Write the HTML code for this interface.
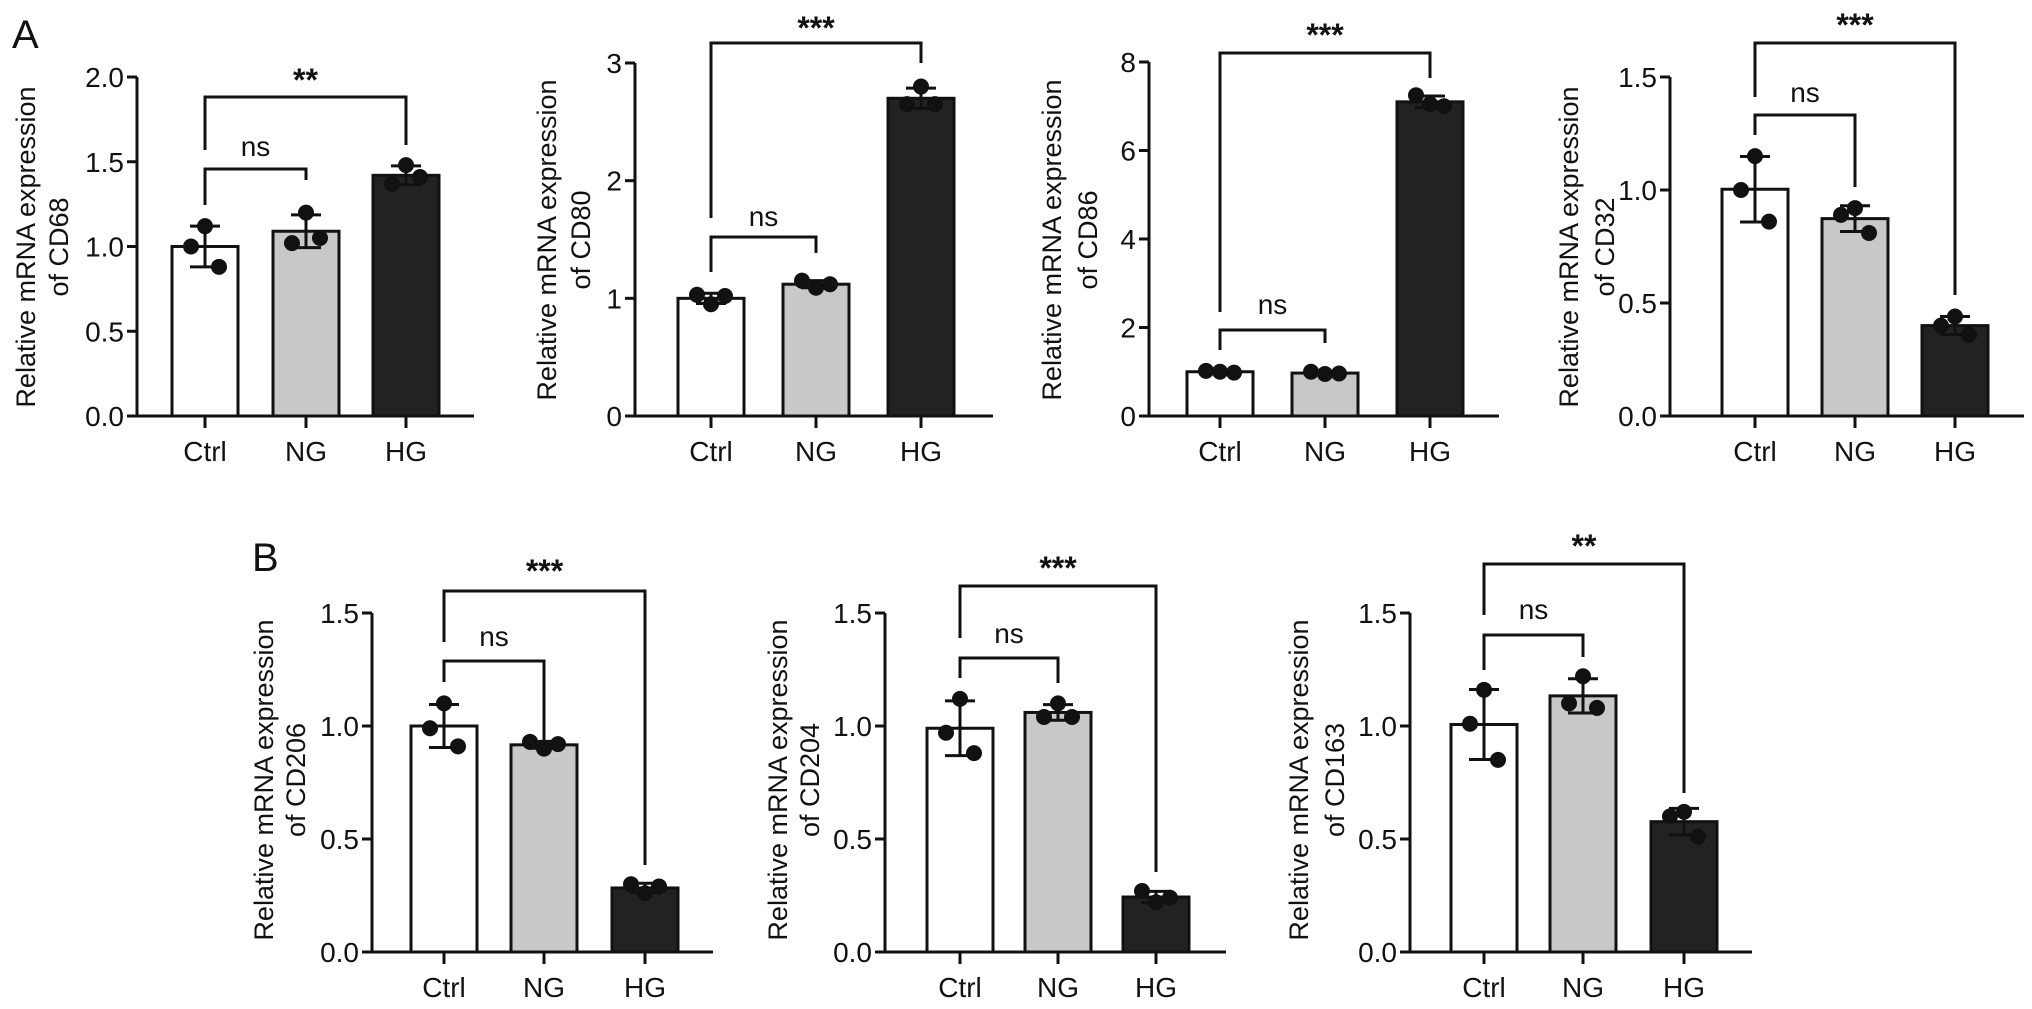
<!DOCTYPE html>
<html><head><meta charset="utf-8">
<style>
html,body{margin:0;padding:0;background:#fff;}
svg{display:block;}
text{font-family:"Liberation Sans",Arial,sans-serif;fill:#111;}
</style></head>
<body>
<svg id="fig" width="2032" height="1009" viewBox="0 0 2032 1009" xmlns="http://www.w3.org/2000/svg">
<text x="12" y="48" font-size="40">A</text>
<text x="252" y="571" font-size="40">B</text>
</svg>
<script>
const groups = ["Ctrl","NG","HG"];
const cd68Pts = [[1.12,1.0,0.88],[1.2,1.02,1.05],[1.48,1.37,1.41]];
const cd80Pts = [[0.95,1.03,1.02],[1.09,1.15,1.12],[2.8,2.65,2.65]];
const cd86Pts = [[1.0,1.02,0.98],[0.95,1.0,0.96],[7.05,7.25,7.0]];
const cd32Pts = [[1.15,1.0,0.86],[0.92,0.89,0.81],[0.44,0.4,0.36]];
const cd206Pts = [[1.1,0.99,0.91],[0.9,0.93,0.92],[0.26,0.3,0.29]];
const cd204Pts = [[1.12,0.97,0.88],[1.1,1.04,1.04],[0.22,0.27,0.24]];
const cd163Pts = [[1.16,1.01,0.85],[1.22,1.1,1.08],[0.62,0.6,0.51]];
const cd68Ticks = [0,0.5,1.0,1.5,2.0];
const cd80Ticks = [0,1,2,3];
const cd86Ticks = [0,2,4,6,8];
const cd32Ticks = [0,0.5,1.0,1.5];
const m2Ticks = [0,0.5,1.0,1.5];
const sigLabels = ["**","***","***","***","***","***","**"];
const geneNames = ["CD68","CD80","CD86","CD32","CD206","CD204","CD163"];

const panels = [
 {pts:cd68Pts,ticks:cd68Ticks,dec:1,ax:137,axEnd:474,y0:416,yTop:77,cx:[205,306,406],tx:[26,59],ty:247,ob:[97,150,145],ib:[169,205,180],sigY:77,nsY:147},
 {pts:cd80Pts,ticks:cd80Ticks,dec:0,ax:635,axEnd:993,y0:416,yTop:63,cx:[711,816,921],tx:[547,581],ty:240,ob:[43,218,63],ib:[237,272,253],sigY:25,nsY:217},
 {pts:cd86Pts,ticks:cd86Ticks,dec:0,ax:1149,axEnd:1499,y0:416,yTop:62,cx:[1220,1325,1430],tx:[1052,1088],ty:240,ob:[53,312,78],ib:[330,350,343],sigY:32,nsY:305},
 {pts:cd32Pts,ticks:cd32Ticks,dec:1,ax:1670,axEnd:2024,y0:416,yTop:77,cx:[1755,1855,1955],tx:[1569,1605],ty:247,ob:[43,97,295],ib:[115,135,187],sigY:22,nsY:93},
 {pts:cd206Pts,ticks:m2Ticks,dec:1,ax:372,axEnd:713,y0:952,yTop:613,cx:[444,544,645],tx:[264,296],ty:780,ob:[591,642,865],ib:[661,682,743],sigY:568,nsY:637},
 {pts:cd204Pts,ticks:m2Ticks,dec:1,ax:885,axEnd:1226,y0:952,yTop:613,cx:[960,1058,1156],tx:[778,810],ty:780,ob:[586,638,872],ib:[658,678,683],sigY:565,nsY:634},
 {pts:cd163Pts,ticks:m2Ticks,dec:1,ax:1410,axEnd:1752,y0:952,yTop:613,cx:[1484,1583,1684],tx:[1299,1335],ty:780,ob:[564,615,793],ib:[635,670,657],sigY:543,nsY:610}
];
const fills = ["#ffffff","#c8c8c8","#222222"];
const NS="http://www.w3.org/2000/svg";
const svg=document.getElementById('fig');
function mk(tag,attrs,parent){const e=document.createElementNS(NS,tag);for(const k in attrs)e.setAttribute(k,attrs[k]);(parent||svg).appendChild(e);return e;}

panels.forEach((p,pi)=>{
  const g=mk('g',{});
  
  
  const maxT=p.ticks[p.ticks.length-1];
  const y=v=>p.y0-(v/maxT)*(p.y0-p.yTop);
  const bw=66;
  // bars
  p.pts.forEach((arr,i)=>{
    const mean=arr.reduce((a,b)=>a+b,0)/arr.length;
    const sd=Math.sqrt(arr.reduce((a,b)=>a+(b-mean)*(b-mean),0)/(arr.length-1));
    const r=mk('rect',{x:p.cx[i]-bw/2,y:y(mean),width:bw,height:p.y0-y(mean),fill:fills[i],stroke:'#111','stroke-width':3},g);
    
    
    const eb=mk('path',{d:`M${p.cx[i]} ${y(mean+sd)}V${y(mean-sd)}M${p.cx[i]-15} ${y(mean+sd)}h30M${p.cx[i]-15} ${y(mean-sd)}h30`,stroke:'#111','stroke-width':3,fill:'none'},g);
    
    
    const offs=[0,-14,14];
    arr.forEach((v,k)=>{
      const c=mk('circle',{cx:p.cx[i]+offs[k],cy:y(v),r:8,fill:'#111'},g);
      
      
    });
    const t=mk('text',{x:p.cx[i],y:p.y0+45,'font-size':28,'text-anchor':'middle'},g);
    t.textContent=groups[i];
    
    
    mk('line',{x1:p.cx[i],x2:p.cx[i],y1:p.y0,y2:p.y0+12,stroke:'#111','stroke-width':3},g);
  });
  // axes
  const ya=mk('path',{d:`M${p.ax} ${p.yTop}V${p.y0}`,stroke:'#111','stroke-width':3,fill:'none'},g);
  
  
  const xa=mk('path',{d:`M${p.ax-10} ${p.y0}H${p.axEnd}`,stroke:'#111','stroke-width':3,fill:'none'},g);
  
  
  p.ticks.forEach(v=>{
    mk('line',{x1:p.ax-10,x2:p.ax,y1:y(v),y2:y(v),stroke:'#111','stroke-width':3},g);
    const t=mk('text',{x:p.ax-13,y:y(v)+10,'font-size':28,'text-anchor':'end'},g);
    t.textContent=v.toFixed(p.dec);
    
    
  });
  // y title
  const t1=mk('text',{transform:`translate(${p.tx[0]},${p.ty}) rotate(-90)`,'font-size':27,'text-anchor':'middle','dominant-baseline':'central'},g);
  t1.textContent='Relative mRNA expression';
  
  
  const t2=mk('text',{transform:`translate(${p.tx[1]},${p.ty}) rotate(-90)`,'font-size':27,'text-anchor':'middle','dominant-baseline':'central'},g);
  t2.textContent='of '+geneNames[pi];
  
  
  // brackets
  const ob=mk('path',{d:`M${p.cx[0]} ${p.ob[1]}V${p.ob[0]}H${p.cx[2]}V${p.ob[2]}`,stroke:'#111','stroke-width':3,fill:'none'},g);
  
  
  const ib=mk('path',{d:`M${p.cx[0]} ${p.ib[1]}V${p.ib[0]}H${p.cx[1]}V${p.ib[2]}`,stroke:'#111','stroke-width':3,fill:'none'},g);
  
  
  const s=mk('text',{x:(p.cx[0]+p.cx[2])/2,y:p.sigY+14,'font-size':32,'font-weight':'bold','text-anchor':'middle'},g);
  s.textContent=sigLabels[pi];
  
  
  const n=mk('text',{x:(p.cx[0]+p.cx[1])/2,y:p.nsY+9,'font-size':28,'text-anchor':'middle'},g);
  n.textContent='ns';
  
  
});
</script>
</body></html>
